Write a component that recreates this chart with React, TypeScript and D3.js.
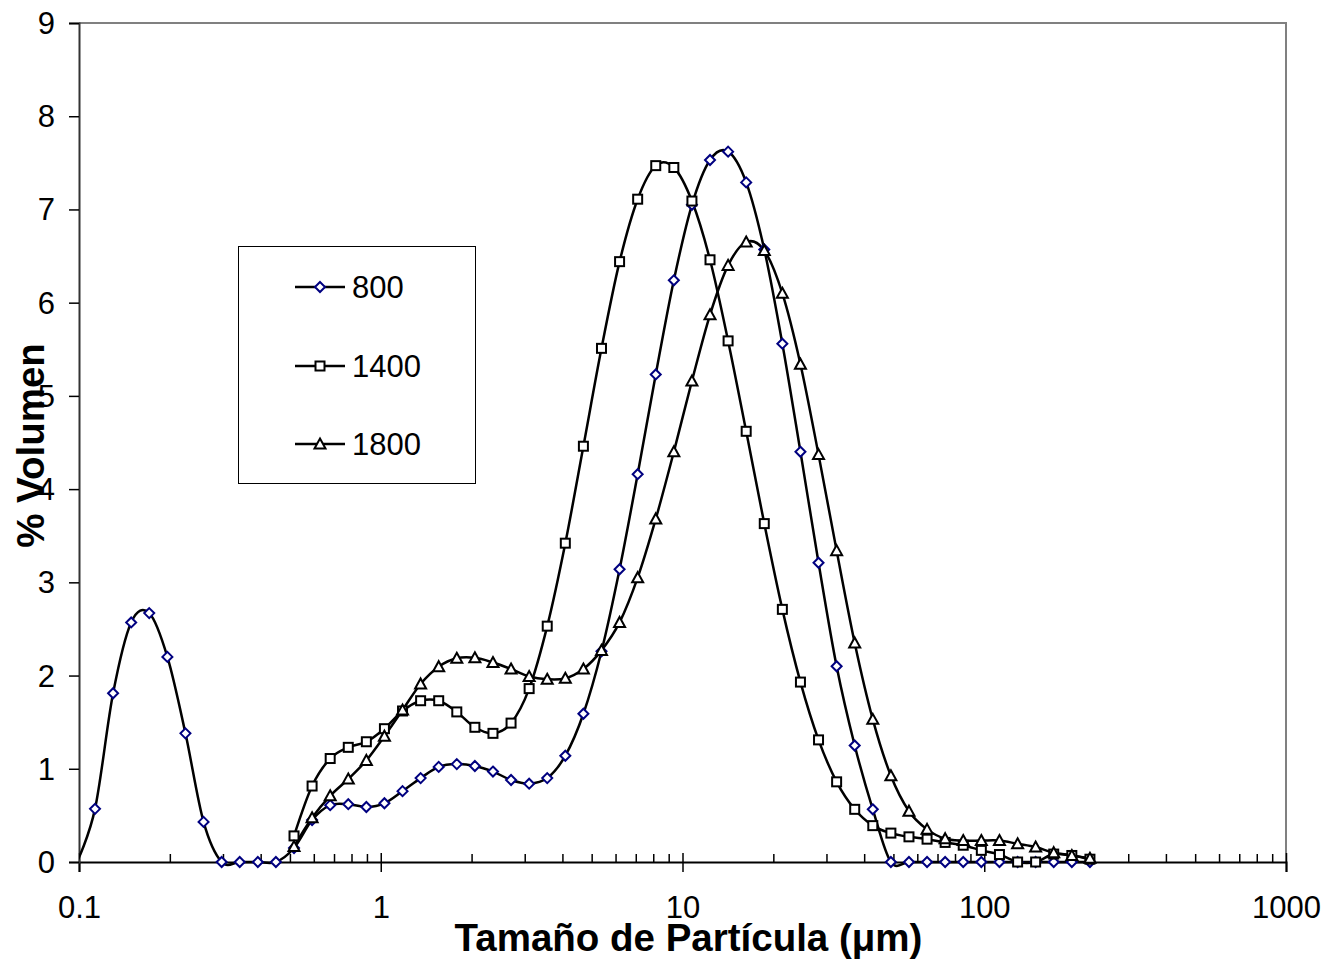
import React, { useRef, useEffect } from 'react';
import * as d3 from 'd3';

// particle size classes (um)
const sizes = [
  0.0984, 0.1130, 0.1297, 0.1489, 0.1709, 0.1963, 0.2253, 0.2587, 0.2970, 0.3409,
  0.3914, 0.4493, 0.5159, 0.5922, 0.6799, 0.7805, 0.8960, 1.0285, 1.1808, 1.3556,
  1.5562, 1.7865, 2.0510, 2.3545, 2.7030, 3.1030, 3.5622, 4.0894, 4.6946, 5.3894,
  6.1870, 7.1026, 8.1538, 9.3605, 10.746, 12.336, 14.162, 16.258, 18.664, 21.426,
  24.597, 28.237, 32.416, 37.214, 42.721, 49.044, 56.302, 64.634, 74.200, 85.181,
  97.80, 112.3, 129.0, 148.0, 169.9, 195.1, 224.0
];

// % volume, series 800 starts at sizes[0]
const v800 = [
  0, 0.57, 1.81, 2.57, 2.67, 2.20, 1.38, 0.43, 0, 0, 0, 0,
  0.15, 0.45, 0.61, 0.62, 0.59, 0.63, 0.76, 0.90, 1.02, 1.05, 1.03, 0.97, 0.88, 0.84, 0.90, 1.14, 1.59, 2.26,
  3.14, 4.16, 5.23, 6.24, 7.05, 7.53, 7.62, 7.29, 6.57, 5.56, 4.40, 3.21, 2.10, 1.25, 0.565,
  0, 0, 0, 0, 0, 0, 0, 0, 0, 0, 0, 0
];

// series 1400 and 1800 start at sizes[12]
const v1400 = [
  0.28, 0.815, 1.11, 1.23, 1.29, 1.43, 1.62, 1.73, 1.73, 1.61, 1.445, 1.38, 1.49, 1.86, 2.53, 3.42, 4.46, 5.51,
  6.44, 7.11, 7.47, 7.45, 7.09, 6.46, 5.59, 4.62, 3.63, 2.71, 1.93, 1.31, 0.86, 0.565, 0.39,
  0.31, 0.27, 0.245, 0.21, 0.18, 0.125, 0.08, 0, 0, 0.085, 0.07, 0.03
];

const v1800 = [
  0.165, 0.475, 0.71, 0.89, 1.09, 1.35, 1.63, 1.91, 2.095, 2.185, 2.19, 2.14, 2.07, 1.99, 1.96, 1.97, 2.07, 2.27,
  2.57, 3.05, 3.68, 4.40, 5.16, 5.87, 6.40, 6.65, 6.56, 6.10, 5.34, 4.37, 3.34, 2.35, 1.53,
  0.925, 0.545, 0.35, 0.25, 0.23, 0.23, 0.23, 0.195, 0.16, 0.10, 0.07, 0.04
];

const seriesNames = ['800', '1400', '1800'];
const seriesStart = [0, 12, 12];
const xTicks = [0.1, 1, 10, 100, 1000];
const yTicks = [0, 1, 2, 3, 4, 5, 6, 7, 8, 9];

const FONT = "'Liberation Sans', Arial, sans-serif";

function App() {
  const ref = useRef(null);
  const width = 1325;
  const height = 960;
  const margin = { top: 23, right: 39, bottom: 98, left: 79 };

  useEffect(() => {
    const svg = d3.select(ref.current);
    svg.selectAll('*').remove();

    const x = d3.scaleLog().domain([0.1, 1000]).range([margin.left, width - margin.right]);
    const y = d3.scaleLinear().domain([0, 9]).range([height - margin.bottom, margin.top]);

    svg.append('defs').append('clipPath').attr('id', 'plotclip')
      .append('rect')
      .attr('x', margin.left).attr('y', 0)
      .attr('width', width - margin.right - margin.left + 10).attr('height', height);

    // gray frame top / right
    svg.append('path')
      .attr('d', `M${margin.left},${margin.top}H${width - margin.right}V${height - margin.bottom}`)
      .attr('fill', 'none').attr('stroke', '#808080').attr('stroke-width', 2);

    // minor ticks on x (inside)
    const minor: number[] = [];
    for (let e = -1; e < 3; e++) for (let m = 2; m < 10; m++) minor.push(m * Math.pow(10, e));
    svg.append('g')
      .attr('transform', `translate(0,${height - margin.bottom})`)
      .call(d3.axisBottom(x).tickValues(minor).tickSize(-8).tickFormat(() => ''))
      .call(g => g.select('.domain').remove())
      .call(g => g.selectAll('.tick line').attr('stroke', '#000').attr('stroke-width', 1.5));

    // major ticks on x, crossing the axis
    svg.append('g')
      .attr('transform', `translate(0,${height - margin.bottom})`)
      .call(d3.axisBottom(x).tickValues(xTicks).tickSize(-9).tickFormat(() => ''))
      .call(g => g.select('.domain').remove())
      .call(g => g.selectAll('.tick line').attr('stroke', '#000').attr('stroke-width', 1.5));

    const xAxis = svg.append('g')
      .attr('transform', `translate(0,${height - margin.bottom})`)
      .call(d3.axisBottom(x).tickValues(xTicks).tickSize(10).tickPadding(24)
        .tickFormat(d => String(d)));
    xAxis.select('.domain').attr('stroke', '#000').attr('stroke-width', 2);
    xAxis.selectAll('.tick line').attr('stroke', '#000').attr('stroke-width', 1.5);
    xAxis.selectAll('.tick text')
      .attr('font-family', FONT).attr('font-size', 31).attr('fill', '#000');

    const yAxis = svg.append('g')
      .attr('transform', `translate(${margin.left},0)`)
      .call(d3.axisLeft(y).tickValues(yTicks).tickSize(10).tickPadding(14).tickFormat(d3.format('d')));
    yAxis.select('.domain').attr('stroke', '#333').attr('stroke-width', 2);
    yAxis.selectAll('.tick line').attr('stroke', '#000').attr('stroke-width', 1.5);
    yAxis.selectAll('.tick text')
      .attr('font-family', FONT).attr('font-size', 31).attr('fill', '#000').attr('dy', '0.34em');

    // axis titles
    svg.append('text')
      .attr('x', (x(0.1) + x(1000)) / 2 + 6)
      .attr('y', 951)
      .attr('text-anchor', 'middle')
      .attr('font-family', FONT).attr('font-weight', 'bold').attr('font-size', 38.5)
      .text('Tamaño de Partícula (μm)');

    svg.append('text')
      .attr('transform', `translate(44,${(y(0) + y(9)) / 2 + 3}) rotate(-90)`)
      .attr('text-anchor', 'middle')
      .attr('font-family', FONT).attr('font-weight', 'bold').attr('font-size', 38.5)
      .text('% Volumen');

    const allSeries = [v800, v1400, v1800].map((vals, si) =>
      vals.map((v, i) => ({ s: sizes[i + seriesStart[si]], v })));

    const line = d3.line<{ s: number; v: number }>()
      .x(d => x(d.s)).y(d => y(d.v))
      .curve(d3.curveCatmullRom.alpha(0));

    const plot = svg.append('g').attr('clip-path', 'url(#plotclip)');

    allSeries.forEach(data => {
      plot.append('path')
        .datum(data)
        .attr('d', line)
        .attr('fill', 'none')
        .attr('stroke', '#000')
        .attr('stroke-width', 2.5);
    });

    const drawMarker = (g: any, si: number, cx: number, cy: number) => {
      if (si === 0) {
        g.append('path')
          .attr('d', `M${cx},${cy - 5}L${cx + 5},${cy}L${cx},${cy + 5}L${cx - 5},${cy}Z`)
          .attr('fill', '#fff').attr('stroke', '#000080').attr('stroke-width', 2);
      } else if (si === 1) {
        g.append('rect')
          .attr('x', cx - 4.5).attr('y', cy - 4.5).attr('width', 9).attr('height', 9)
          .attr('fill', '#fff').attr('stroke', '#000').attr('stroke-width', 2);
      } else {
        g.append('path')
          .attr('d', `M${cx},${cy - 5.5}L${cx + 5.5},${cy + 4.5}L${cx - 5.5},${cy + 4.5}Z`)
          .attr('fill', '#fff').attr('stroke', '#000').attr('stroke-width', 2);
      }
    };

    allSeries.forEach((data, si) => {
      const g = plot.append('g');
      data.filter(d => d.s >= 0.1).forEach(d => drawMarker(g, si, x(d.s), y(d.v)));
    });

    // legend
    const lg = svg.append('g');
    lg.append('rect')
      .attr('x', 238.5).attr('y', 246.5).attr('width', 237).attr('height', 237)
      .attr('fill', '#fff').attr('stroke', '#000').attr('stroke-width', 1);
    const rows = [287, 366, 444];
    seriesNames.forEach((name, si) => {
      const ry = rows[si];
      lg.append('line')
        .attr('x1', 295).attr('x2', 345).attr('y1', ry).attr('y2', ry)
        .attr('stroke', '#000').attr('stroke-width', 2.5);
      drawMarker(lg, si, 320, ry);
      lg.append('text')
        .attr('x', 352).attr('y', ry).attr('dy', '0.35em')
        .attr('font-family', FONT).attr('font-size', 31)
        .text(name);
    });
  }, []);

  return (
    <svg ref={ref} width={width} height={height}
      style={{ position: 'absolute', left: 0, top: 0, background: '#fff', display: 'block' }}
      viewBox={`0 0 ${width} ${height}`} />
  );
}

export default App;
